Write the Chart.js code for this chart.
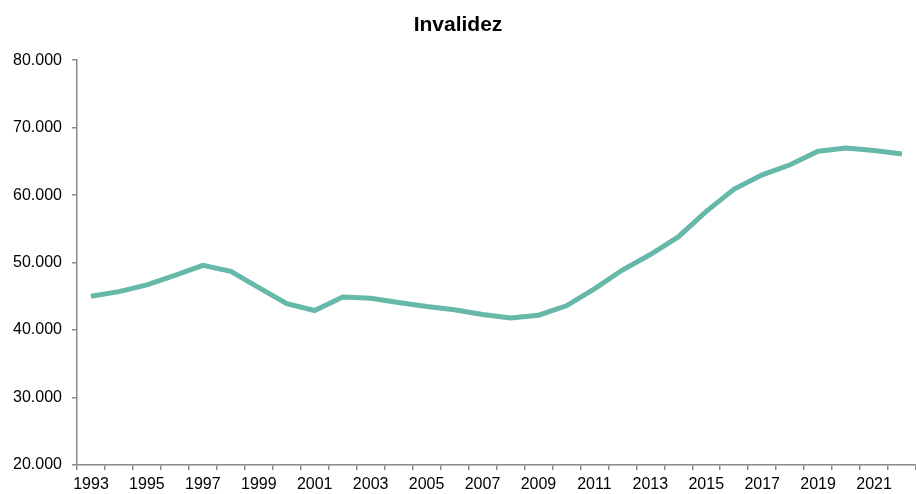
<!DOCTYPE html>
<html>
<head>
<meta charset="utf-8">
<title>Invalidez</title>
<script src="https://cdn.jsdelivr.net/npm/chart.js@4/dist/chart.umd.min.js"></script>
<style>
  html, body { margin: 0; padding: 0; background: #fff; }
  #wrap { width: 916px; height: 494px; }
</style>
</head>
<body>
<div id="wrap"><canvas id="invChart" width="916" height="494"></canvas></div>
<script>
// datos
const years = [
  '1993', '1994', '1995', '1996', '1997', '1998', '1999', '2000', '2001', '2002',
  '2003', '2004', '2005', '2006', '2007', '2008', '2009', '2010', '2011', '2012',
  '2013', '2014', '2015', '2016', '2017', '2018', '2019', '2020', '2021', '2022'
];
const invalidez = [
  45000, 45700, 46700, 48100, 49600, 48700, 46300, 43900, 42900, 44900,
  44700, 44100, 43500, 43000, 42300, 41800, 42200, 43600, 46100, 48900,
  51200, 53800, 57600, 60900, 63000, 64500, 66500, 67000, 66600, 66100
];
const yTicks = [20000, 30000, 40000, 50000, 60000, 70000, 80000];

const axisColor = '#8a8a8a';
const fmt = v => String(v).replace(/\B(?=(\d{3})+(?!\d))/g, '.');

new Chart(document.getElementById('invChart'), {
  type: 'line',
  data: {
    labels: years,
    datasets: [{
      label: 'Invalidez',
      data: invalidez,
      borderColor: '#66b8a8',
      borderWidth: 5,
      pointRadius: 0,
      tension: 0,
      fill: false
    }]
  },
  options: {
    responsive: false,
    animation: false,
    layout: { padding: { left: 0, right: 0, top: 0, bottom: 0 } },
    plugins: {
      legend: { display: false },
      tooltip: { enabled: false },
      title: {
        display: true,
        text: 'Invalidez',
        color: '#000',
        font: { family: 'Liberation Sans, Arial', size: 21, weight: 'bold' },
        padding: { top: 13, bottom: 22 }
      }
    },
    scales: {
      x: {
        offset: true,
        grid: {
          offset: true,
          drawOnChartArea: false,
          drawTicks: true,
          tickLength: 5,
          color: axisColor,
          lineWidth: 1.5
        },
        border: { color: axisColor, width: 1.5 },
        ticks: {
          autoSkip: false,
          maxRotation: 0,
          padding: 5,
          color: '#000',
          font: { family: 'Liberation Sans, Arial', size: 16 },
          callback: (v, i) => (i % 2 === 0 ? years[i] : '')
        },
        afterFit: s => { s.height = 29; }
      },
      y: {
        min: 20000,
        max: 80000,
        afterBuildTicks: s => { s.ticks = yTicks.map(v => ({ value: v })); },
        grid: {
          drawOnChartArea: false,
          drawTicks: true,
          tickLength: 5,
          color: axisColor,
          lineWidth: 1.5
        },
        border: { color: axisColor, width: 1.5 },
        ticks: {
          padding: 10,
          color: '#000',
          font: { family: 'Liberation Sans, Arial', size: 16 },
          callback: v => fmt(v)
        },
        afterFit: s => { s.width = 77; }
      }
    }
  }
});
</script>
</body>
</html>
